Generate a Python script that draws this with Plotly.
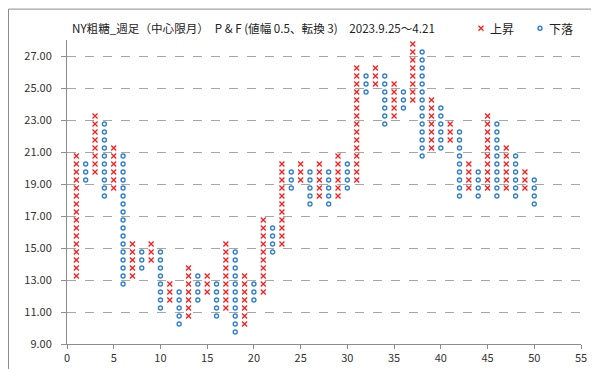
import plotly.graph_objects as go

# Point & Figure columns (box 0.5, reversal 3)
columns = list(range(1, 51))
col_type = ['X','O','X','O','X','O','X','O','X','O',
            'X','O','X','O','X','O','X','O','X','O',
            'X','O','X','O','X','O','X','O','X','O',
            'X','O','X','O','X','O','X','O','X','O',
            'X','O','X','O','X','O','X','O','X','O']
col_low = [13.25, 19.25, 19.75, 18.25, 18.75, 12.75, 13.25, 13.75, 14.25, 11.25,
           11.75, 10.25, 10.75, 11.75, 12.25, 10.75, 11.25, 9.75, 10.25, 11.75,
           12.25, 14.75, 15.25, 18.75, 19.25, 17.75, 18.25, 17.75, 18.25, 18.75,
           19.25, 24.75, 25.25, 22.75, 23.25, 23.75, 24.25, 20.75, 21.25, 21.25,
           21.75, 18.25, 18.75, 18.25, 18.75, 18.25, 18.75, 18.25, 18.75, 17.75]
col_high = [20.75, 20.25, 23.25, 22.75, 21.25, 20.75, 15.25, 14.75, 15.25, 14.75,
            12.75, 12.25, 13.75, 13.25, 13.25, 12.75, 15.25, 14.75, 13.25, 12.75,
            16.75, 16.25, 20.25, 19.75, 20.25, 19.75, 20.25, 19.75, 20.75, 20.25,
            26.25, 25.75, 26.25, 25.75, 25.25, 24.75, 27.75, 27.25, 24.25, 23.75,
            22.75, 22.25, 20.25, 19.75, 23.25, 22.75, 21.25, 20.75, 19.75, 19.25]
box_size = 0.5
y_ticks = [9, 11, 13, 15, 17, 19, 21, 23, 25, 27]
x_ticks = [0, 5, 10, 15, 20, 25, 30, 35, 40, 45, 50, 55]
series_names = ['上昇', '下落']
title_text = 'NY粗糖_週足（中心限月）　P & F (値幅 0.5、転換 3)　2023.9.25～4.21'

RED = '#FF1A1A'
BLUE = '#2E7FD0'

xs_up, ys_up, xs_dn, ys_dn = [], [], [], []
for c, t, lo, hi in zip(columns, col_type, col_low, col_high):
    n = int(round((hi - lo) / box_size)) + 1
    vals = [lo + i * box_size for i in range(n)]
    if t == 'X':
        xs_up += [c] * n; ys_up += vals
    else:
        xs_dn += [c] * n; ys_dn += vals

fig = go.Figure()
fig.add_trace(go.Scatter(x=xs_up, y=ys_up, mode='markers', name=series_names[0],
                         showlegend=False,
                         marker=dict(symbol='x-thin', size=5, color=RED,
                                     line=dict(color=RED, width=1.3))))
fig.add_trace(go.Scatter(x=xs_dn, y=ys_dn, mode='markers', name=series_names[1],
                         showlegend=False,
                         marker=dict(symbol='circle-open', size=4, color=BLUE,
                                     line=dict(color=BLUE, width=1.4))))

L, R, T, B = 59, 26, 32, 27
W, H = 599, 369
pw, ph = W - L - R, H - T - B
font = "Noto Sans CJK JP, Noto Sans, sans-serif"

def px(xp):  # pixel -> paper x
    return (xp - L) / pw

def py(yp):  # pixel (from top) -> paper y
    return 1 - (yp - T) / ph

fig.update_layout(
    width=W, height=H, margin=dict(l=L, r=R, t=T, b=B, pad=0),
    paper_bgcolor='white', plot_bgcolor='white',
    font=dict(family=font, size=11, color='#333333'),
    showlegend=False,
    xaxis=dict(range=[0, 55], tickmode='array', tickvals=x_ticks,
               showgrid=False, zeroline=False, showline=True, linecolor='#8C8C8C',
               linewidth=1, ticks='outside', ticklen=4, tickcolor='#8C8C8C',
               tickfont=dict(size=11, color='#333333')),
    yaxis=dict(range=[9, 28], tickmode='array', tickvals=y_ticks,
               tickformat='.2f', showgrid=True, gridcolor='#A6A6A6', griddash='dash',
               gridwidth=1, zeroline=False, showline=True, linecolor='#8C8C8C',
               linewidth=1, ticks='outside', ticklen=5, tickcolor='#8C8C8C',
               ticklabelstandoff=7,
               tickfont=dict(size=11, color='#333333')),
)

fig.add_annotation(text=title_text,
                   xref='paper', yref='paper', x=px(62), y=py(20),
                   xanchor='left', yanchor='middle', showarrow=False,
                   font=dict(size=11.6, color='#222222', family=font))

# legend (drawn manually to match compact layout)
lx_up, lx_dn, ly = 473, 532, 20
fig.add_shape(type='line', xref='paper', yref='paper',
              x0=px(lx_up - 2.5), x1=px(lx_up + 2.5), y0=py(ly - 2.5), y1=py(ly + 2.5),
              line=dict(color=RED, width=1.3))
fig.add_shape(type='line', xref='paper', yref='paper',
              x0=px(lx_up - 2.5), x1=px(lx_up + 2.5), y0=py(ly + 2.5), y1=py(ly - 2.5),
              line=dict(color=RED, width=1.3))
fig.add_shape(type='circle', xref='paper', yref='paper',
              x0=px(lx_dn - 2), x1=px(lx_dn + 2), y0=py(ly + 2), y1=py(ly - 2),
              line=dict(color=BLUE, width=1.4))
fig.add_annotation(text=series_names[0], xref='paper', yref='paper',
                   x=px(480), y=py(ly), xanchor='left', yanchor='middle', showarrow=False,
                   font=dict(size=12, color='#222222', family=font))
fig.add_annotation(text=series_names[1], xref='paper', yref='paper',
                   x=px(539), y=py(ly), xanchor='left', yanchor='middle', showarrow=False,
                   font=dict(size=12, color='#222222', family=font))

fig.add_shape(type='rect', xref='paper', yref='paper',
              x0=px(0.5), x1=px(W - 0.5), y0=py(H - 0.5), y1=py(0.5),
              line=dict(color='#8C8C8C', width=1), fillcolor='rgba(0,0,0,0)', layer='below')

fig.write_html("out.html")
